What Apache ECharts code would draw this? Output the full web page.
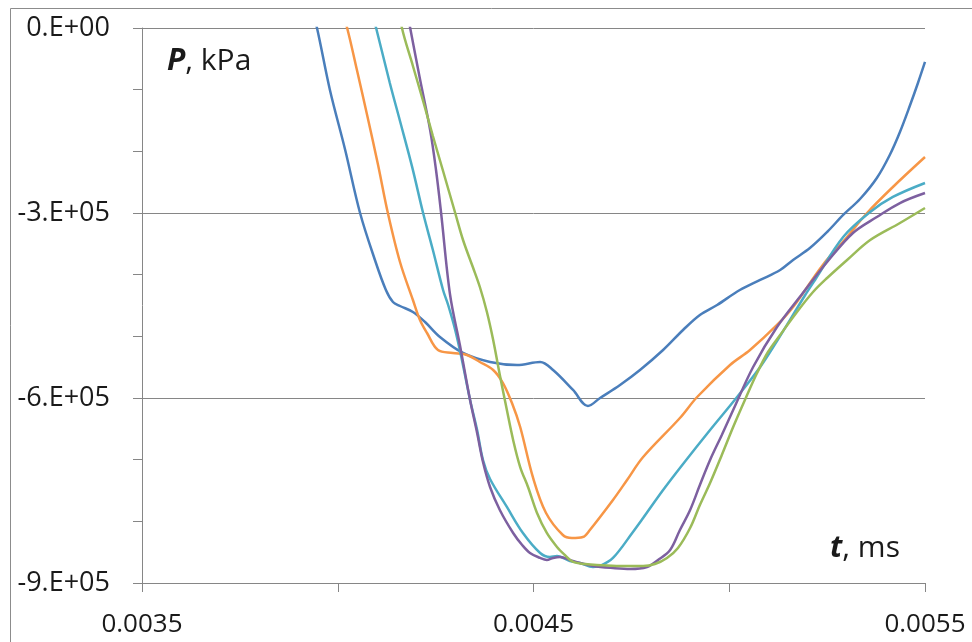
<!DOCTYPE html>
<html>
<head>
<meta charset="utf-8">
<script src="https://cdn.jsdelivr.net/npm/echarts@6/dist/echarts.min.js"></script>
<style>
  html, body { margin: 0; padding: 0; background: #fff; }
  #chart { width: 972px; height: 642px; }
</style>
</head>
<body>
<div id="chart"></div>
<script>
// pressure traces P(t), five runs
var tBlue = [0.003934, 0.003947, 0.003980, 0.004019, 0.004057, 0.004095, 0.004123, 0.004141, 0.004159, 0.004192,
  0.004223, 0.004261, 0.004320, 0.004389, 0.004458, 0.004517, 0.004550, 0.004601, 0.004639, 0.004670,
  0.004721, 0.004772, 0.004831, 0.004882, 0.004925, 0.004969, 0.005027, 0.005079, 0.005130, 0.005163,
  0.005206, 0.005250, 0.005291, 0.005334, 0.005377, 0.005410, 0.005436, 0.005462, 0.005482, 0.005500];
var pBlue = [29000, 0, -100500, -197800, -300000, -376200, -424900, -444300, -450800, -460500,
  -476800, -501100, -527000, -541600, -546500, -541600, -554600, -587000, -613000, -600000,
  -578900, -554600, -522200, -489700, -465400, -449200, -424900, -408600, -392400, -376200,
  -356800, -330800, -303200, -277300, -243200, -205900, -168600, -124900, -89200, -55100];

var tOrange = [0.004006, 0.004024, 0.004049, 0.004075, 0.004103, 0.004128, 0.004159, 0.004192, 0.004210, 0.004228,
  0.004256, 0.004294, 0.004330, 0.004363, 0.004397, 0.004422, 0.004445, 0.004466, 0.004499, 0.004532,
  0.004575, 0.004598, 0.004626, 0.004644, 0.004703, 0.004739, 0.004780, 0.004874, 0.004918, 0.005002,
  0.005053, 0.005122, 0.005163, 0.005239, 0.005301, 0.005352, 0.005418, 0.005500];
var pOrange = [37300, 0, -68100, -141100, -222100, -300000, -379500, -441100, -473500, -494600,
  -522200, -527000, -530300, -541600, -554600, -575700, -608100, -647000, -729700, -786500,
  -822200, -827000, -825400, -814000, -765400, -733000, -695700, -632400, -598400, -546500,
  -522200, -481600, -452400, -384300, -338900, -300000, -257800, -209200];

var tCyan = [0.004082, 0.004098, 0.004133, 0.004159, 0.004190, 0.004218, 0.004243, 0.004269, 0.004282, 0.004300,
  0.004317, 0.004338, 0.004356, 0.004371, 0.004389, 0.004432, 0.004473, 0.004517, 0.004542, 0.004560,
  0.004593, 0.004619, 0.004652, 0.004670, 0.004703, 0.004754, 0.004780, 0.004831, 0.004882, 0.004951,
  0.005020, 0.005079, 0.005122, 0.005194, 0.005219, 0.005291, 0.005360, 0.005418, 0.005500];
var pCyan = [37300, 0, -89200, -150800, -225200, -300000, -360000, -424900, -449200, -489700,
  -537800, -603200, -651900, -700500, -731300, -776700, -818900, -851300, -857800, -856200,
  -864300, -867600, -874000, -872400, -859400, -817300, -794600, -749200, -707000, -651900,
  -598400, -549700, -507600, -433000, -408600, -338900, -298400, -274000, -251300];

var tPurple = [0.004174, 0.004185, 0.004210, 0.004236, 0.004251, 0.004264, 0.004287, 0.004312, 0.004338,
  0.004356, 0.004371, 0.004389, 0.004414, 0.004448, 0.004471, 0.004491, 0.004517, 0.004534, 0.004550,
  0.004568, 0.004593, 0.004619, 0.004652, 0.004703, 0.004747, 0.004790, 0.004818, 0.004849, 0.004874,
  0.004900, 0.004925, 0.004951, 0.004981, 0.005010, 0.005061, 0.005122, 0.005188, 0.005250, 0.005316,
  0.005377, 0.005436, 0.005500];
var pPurple = [37300, 0, -82700, -165400, -230300, -300000, -433000, -514000, -603200,
  -656700, -703800, -744300, -781600, -818900, -838400, -851300, -859400, -862700, -859400,
  -857800, -862700, -867600, -872400, -875700, -877300, -874000, -862700, -846500, -814000,
  -781600, -741100, -700500, -660000, -619500, -549700, -484900, -429700, -379500, -332400,
  -306500, -283800, -267600];

var tGreen = [0.004156, 0.004164, 0.004192, 0.004218, 0.004243, 0.004269, 0.004300, 0.004320, 0.004345, 0.004363,
  0.004381, 0.004397, 0.004414, 0.004432, 0.004448, 0.004466, 0.004486, 0.004509, 0.004534, 0.004560,
  0.004580, 0.004601, 0.004632, 0.004662, 0.004721, 0.004780, 0.004810, 0.004841, 0.004869, 0.004900,
  0.004925, 0.004951, 0.004981, 0.005010, 0.005040, 0.005071, 0.005099, 0.005130, 0.005173, 0.005214,
  0.005250, 0.005301, 0.005360, 0.005436, 0.005500];
var pGreen = [37300, 0, -61600, -118400, -175100, -231900, -300000, -343800, -387600, -420000,
  -460500, -505900, -562700, -619500, -668100, -711900, -744300, -786500, -818900, -841600,
  -854600, -865900, -869200, -870800, -872400, -872400, -869200, -859400, -843200, -810800,
  -773500, -737800, -692400, -647000, -603200, -559500, -525400, -497800, -460500, -428100,
  -405400, -376200, -343800, -316200, -291900];

var xTicks = ['0.0035', '0.0045', '0.0055'];
var yTicks = ['0.E+00', '-3.E+05', '-6.E+05', '-9.E+05'];

function pairs(t, p) {
  var out = [];
  for (var i = 0; i < t.length; i++) out.push([t[i], p[i]]);
  return out;
}

function trace(data, color) {
  return {
    type: 'line',
    data: data,
    smooth: 0.35,
    showSymbol: false,
    clip: true,
    lineStyle: { color: color, width: 2.5 },
    itemStyle: { color: color }
  };
}

var axisGray = '#868686';
var font = 'Open Sans';

var el = echarts.init(document.getElementById('chart'));
el.setOption({
  animation: false,
  grid: { left: 142, top: 28, right: 47, bottom: 59 },
  xAxis: {
    type: 'value',
    min: 0.0035,
    max: 0.0055,
    interval: 0.0005,
    axisLine: { show: true, onZero: false, lineStyle: { color: axisGray, width: 1 } },
    axisTick: { show: true, length: 9, lineStyle: { color: axisGray } },
    splitLine: { show: false },
    axisLabel: {
      color: '#1a1a1a', fontFamily: font, fontSize: 26, margin: 29,
      formatter: function (v) {
        var k = Math.round((v - 0.0035) / 0.0005);
        return k % 2 === 0 ? xTicks[k / 2] : '';
      }
    }
  },
  yAxis: {
    type: 'value',
    min: -900000,
    max: 0,
    interval: 300000,
    axisLine: { show: true, lineStyle: { color: axisGray, width: 1 } },
    axisTick: { show: true, length: 9, lineStyle: { color: axisGray } },
    minorTick: { show: true, splitNumber: 3, length: 9, lineStyle: { color: axisGray } },
    splitLine: { show: true, lineStyle: { color: axisGray, width: 1 } },
    axisLabel: {
      color: '#1a1a1a', fontFamily: font, fontSize: 27, margin: 32,
      formatter: function (v) {
        return yTicks[Math.round(-v / 300000)];
      }
    }
  },
  graphic: [
    {
      type: 'rect',
      shape: { x: 10.5, y: 8.5, width: 1200, height: 1000 },
      style: { fill: 'none', stroke: '#8c8c8c', lineWidth: 1 },
      silent: true
    },
    {
      type: 'text', left: 167, top: 46,
      style: {
        text: '{b|P}, kPa',
        fontFamily: font, fontSize: 30, fill: '#1a1a1a',
        rich: { b: { fontFamily: font, fontSize: 30, fontWeight: 'bold', fontStyle: 'italic', fill: '#1a1a1a' } }
      }
    },
    {
      type: 'text', left: 830, top: 533,
      style: {
        text: '{b|t}, ms',
        fontFamily: font, fontSize: 30, fill: '#1a1a1a',
        rich: { b: { fontFamily: font, fontSize: 30, fontWeight: 'bold', fontStyle: 'italic', fill: '#1a1a1a' } }
      }
    }
  ],
  series: [
    trace(pairs(tBlue, pBlue), '#4a7ebb'),
    trace(pairs(tOrange, pOrange), '#f79646'),
    trace(pairs(tCyan, pCyan), '#4bacc6'),
    trace(pairs(tPurple, pPurple), '#7d60a0'),
    trace(pairs(tGreen, pGreen), '#9bbb59')
  ]
});
</script>
</body>
</html>
